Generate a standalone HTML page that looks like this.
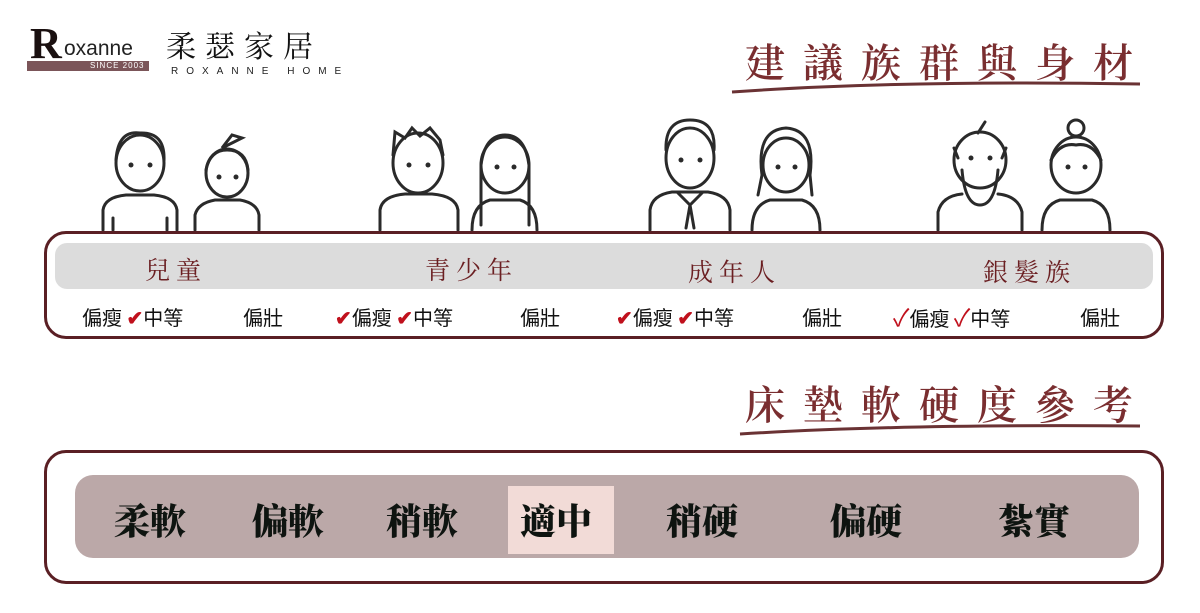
<!DOCTYPE html>
<html><head><meta charset="utf-8"><style>
body{margin:0;width:1200px;height:613px;background:#fff;position:relative;overflow:hidden;font-family:"Liberation Sans","Noto Sans CJK TC",sans-serif}
.a{position:absolute;white-space:nowrap}
.ttl{color:#7a2e30;font-family:"Noto Serif CJK SC","Noto Sans CJK TC",serif;font-size:40px;letter-spacing:18px;font-weight:600}
.cat{color:#6b1f22;font-family:"Noto Serif CJK SC",serif;font-size:25px;letter-spacing:6px}
.opt{font-size:20px;color:#111;font-family:"Noto Sans CJK TC",sans-serif}
.ck{color:#c0101c;font-weight:bold}
.hd{font-family:"Noto Serif CJK SC","Noto Sans CJK TC",serif;font-weight:900;font-size:36px;color:#0e1410}
</style></head><body>
<!-- logo -->
<div class="a" style="left:27px;top:61px;width:122px;height:10px;background:#7b5559"></div>
<div class="a" style="left:90px;top:61px;font-size:8px;color:#fff;letter-spacing:1px">SINCE 2003</div>
<div class="a" style="left:30px;top:22px;font-family:'Liberation Serif',serif;font-size:44px;font-weight:bold;color:#1a1010;line-height:44px">R</div>
<div class="a" style="left:64px;top:38px;font-size:21px;color:#222;line-height:22px">oxanne</div>
<div class="a" style="left:166px;top:26px;font-family:'Noto Serif CJK SC',serif;font-size:30px;letter-spacing:9px;color:#111;line-height:36px">柔瑟家居</div>
<div class="a" style="left:171px;top:66px;font-size:10px;letter-spacing:8px;color:#222">ROXANNE HOME</div>
<!-- titles -->
<div class="a ttl" style="left:745px;top:32px">建議族群與身材</div>
<svg class="a" style="left:0;top:0" width="1200" height="613">
<path d="M732 92 Q900 80 1140 84" stroke="#6a3234" stroke-width="3" fill="none"/>
<path d="M740 434 Q900 424 1140 426" stroke="#6a3234" stroke-width="3" fill="none"/>
<g fill="none" stroke="#2a2a2a" stroke-width="3" stroke-linecap="round">
<ellipse cx="140" cy="163" rx="24" ry="28"/><path d="M116 160 Q118 130 140 133 Q165 132 164 160"/><path d="M103 230 L103 210 Q105 197 126 195 L154 195 Q175 197 177 210 L177 230 M113 230 V218 M167 230 V218"/>
<ellipse cx="227" cy="173" rx="21" ry="24"/><path d="M206 170 Q210 150 227 150 Q246 150 248 170"/><path d="M222 148 L232 135 L242 138 Z"/><path d="M195 230 L195 215 Q198 203 215 200 L240 200 Q257 203 259 215 L259 230"/>
<ellipse cx="418" cy="163" rx="25" ry="30"/><path d="M393 155 L395 132 L405 138 L412 128 L420 136 L430 128 L440 140 L443 155"/><path d="M380 230 L380 210 Q382 196 405 194 L432 194 Q456 196 458 210 L458 230"/>
<ellipse cx="505" cy="165" rx="24" ry="28"/><path d="M481 165 L481 225 M529 165 L529 225 M481 165 Q485 135 505 135 Q525 135 529 165"/><path d="M472 230 Q472 205 490 200 L520 200 Q537 205 537 230"/>
<ellipse cx="690" cy="158" rx="24" ry="30"/><path d="M666 150 Q665 120 690 120 Q716 120 714 150"/><path d="M650 230 L650 210 Q652 195 672 192 L708 192 Q728 195 730 210 L730 230 M678 193 L690 205 L702 193 M690 205 L686 228 M690 205 L694 228"/>
<ellipse cx="786" cy="165" rx="23" ry="27"/><path d="M762 175 Q756 130 786 128 Q816 130 810 175 L812 195 M762 175 L758 195"/><path d="M752 230 Q752 205 770 200 L802 200 Q820 205 820 230"/>
<ellipse cx="980" cy="160" rx="26" ry="28"/><path d="M958 158 L954 148 M1002 158 L1006 148 M978 133 L985 122"/><path d="M962 170 Q965 205 980 205 Q995 205 998 170"/><path d="M938 230 L938 212 Q942 196 962 194 M998 194 Q1018 196 1022 212 L1022 230"/>
<ellipse cx="1076" cy="165" rx="25" ry="28"/><circle cx="1076" cy="128" r="8"/><path d="M1051 160 Q1060 142 1076 145 Q1092 142 1101 160"/><path d="M1042 230 Q1042 205 1060 200 L1092 200 Q1110 205 1110 230"/>
</g>
<g fill="#2a2a2a"><circle cx="131" cy="165" r="2.5"/><circle cx="150" cy="165" r="2.5"/><circle cx="219" cy="177" r="2.5"/><circle cx="236" cy="177" r="2.5"/><circle cx="409" cy="165" r="2.5"/><circle cx="428" cy="165" r="2.5"/><circle cx="497" cy="167" r="2.5"/><circle cx="514" cy="167" r="2.5"/><circle cx="681" cy="160" r="2.5"/><circle cx="700" cy="160" r="2.5"/><circle cx="778" cy="167" r="2.5"/><circle cx="795" cy="167" r="2.5"/><circle cx="971" cy="158" r="2.5"/><circle cx="990" cy="158" r="2.5"/><circle cx="1068" cy="167" r="2.5"/><circle cx="1085" cy="167" r="2.5"/></g>
</svg>
<!-- top box -->
<div class="a" style="left:44px;top:231px;width:1114px;height:102px;border:3px solid #5a1f24;border-radius:22px;background:#fff"></div>
<div class="a" style="left:55px;top:243px;width:1098px;height:46px;background:#dcdcdc;border-radius:12px"></div>
<div class="a cat" style="left:145px;top:251px">兒童</div>
<div class="a cat" style="left:425px;top:251px">青少年</div>
<div class="a cat" style="left:688px;top:253px">成年人</div>
<div class="a cat" style="left:983px;top:253px">銀髮族</div>
<div class="a opt" style="left:82px;top:302px">偏瘦 <span class="ck">✔</span>中等</div><div class="a opt" style="left:243px;top:302px">偏壯</div>
<div class="a opt" style="left:335px;top:302px"><span class="ck">✔</span>偏瘦 <span class="ck">✔</span>中等</div><div class="a opt" style="left:520px;top:302px">偏壯</div>
<div class="a opt" style="left:616px;top:302px"><span class="ck">✔</span>偏瘦 <span class="ck">✔</span>中等</div><div class="a opt" style="left:802px;top:302px">偏壯</div>
<div class="a opt" style="left:893px;top:298px"><span class="ck" style="font-weight:normal;font-size:24px">✓</span>偏瘦 <span class="ck" style="font-weight:normal;font-size:24px">✓</span>中等</div><div class="a opt" style="left:1080px;top:302px">偏壯</div>
<div class="a ttl" style="left:745px;top:374px">床墊軟硬度參考</div>
<!-- bottom box -->
<div class="a" style="left:44px;top:450px;width:1114px;height:128px;border:3px solid #5a1f24;border-radius:22px"></div>
<div class="a" style="left:75px;top:475px;width:1064px;height:83px;background:#bba8a8;border-radius:18px"></div>
<div class="a" style="left:508px;top:486px;width:106px;height:68px;background:#f2dbd7"></div>
<div class="a hd" style="left:114px;top:494px">柔軟</div>
<div class="a hd" style="left:252px;top:494px">偏軟</div>
<div class="a hd" style="left:386px;top:494px">稍軟</div>
<div class="a hd" style="left:520px;top:494px">適中</div>
<div class="a hd" style="left:666px;top:494px">稍硬</div>
<div class="a hd" style="left:830px;top:494px">偏硬</div>
<div class="a hd" style="left:998px;top:494px">紮實</div>
</body></html>
